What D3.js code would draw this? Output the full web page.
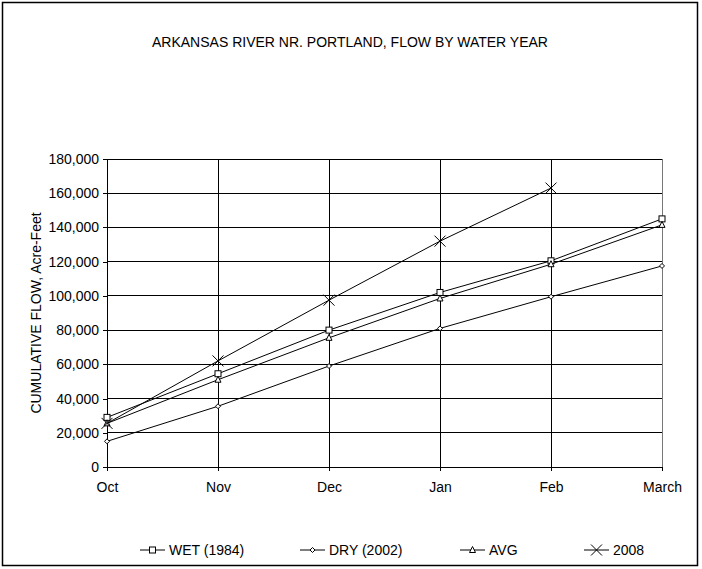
<!DOCTYPE html>
<html><head><meta charset="utf-8">
<script src="https://cdn.jsdelivr.net/npm/d3@7"></script>
<style>body{margin:0;background:#fff}svg{font-family:"Liberation Sans",Arial,sans-serif}</style>
</head><body><svg id="c" width="702" height="569"></svg>
<script>
const months = ["Oct", "Nov", "Dec", "Jan", "Feb", "March"];
const wet = [29000, 54500, 80000, 102000, 120500, 145000];
const dry = [15000, 35500, 59000, 81000, 99500, 117500];
const avg = [25500, 51000, 75500, 98500, 118500, 141500];
const y2008 = [25500, 62000, 97500, 132000, 163000];
const yTicks = [0, 20000, 40000, 60000, 80000, 100000, 120000, 140000, 160000, 180000];

const series = [
  {name: "WET (1984)", vals: wet, sym: "square"},
  {name: "DRY (2002)", vals: dry, sym: "diamond"},
  {name: "AVG", vals: avg, sym: "triangle"},
  {name: "2008", vals: y2008, sym: "x"}
];

const svg = d3.select("#c");
svg.append("rect").attr("x", 2.5).attr("y", 2.5).attr("width", 695).attr("height", 563)
  .attr("fill", "none").attr("stroke", "#000").attr("stroke-width", 1.5);

const x = d3.scalePoint().domain(months).range([107, 662]);
const y = d3.scaleLinear().domain([0, 180000]).range([467, 159]);
const fmt = d3.format(",");
const FS = 14;

svg.append("text").attr("x", 350).attr("y", 47).attr("text-anchor", "middle")
  .attr("font-size", FS).text("ARKANSAS RIVER NR. PORTLAND, FLOW BY WATER YEAR");

const g = svg.append("g");
g.selectAll(".hg").data(yTicks.slice(1)).join("line")
  .attr("x1", 107).attr("x2", 662).attr("y1", d => y(d)).attr("y2", d => y(d))
  .attr("stroke", "#000").attr("stroke-width", 1).attr("shape-rendering", "crispEdges");
g.selectAll(".vg").data(months.slice(1)).join("line")
  .attr("x1", d => x(d)).attr("x2", d => x(d)).attr("y1", 159).attr("y2", 467)
  .attr("stroke", d => d === "March" ? "#777" : "#000").attr("shape-rendering", "crispEdges");

const ya = d3.axisLeft(y).tickValues(yTicks).tickFormat(fmt).tickSize(4).tickPadding(4);
svg.append("g").attr("transform", "translate(107,0)").call(ya)
  .call(s => s.selectAll("text").attr("font-size", FS).attr("font-family", "Liberation Sans, Arial").attr("fill", "#000"))
  .call(s => s.selectAll("line,path").attr("shape-rendering", "crispEdges"));
const xa = d3.axisBottom(x).tickSize(4);
svg.append("g").attr("transform", "translate(0,467)").call(xa)
  .call(s => s.selectAll("text").attr("font-size", FS).attr("dy", "1.3em").attr("font-family", "Liberation Sans, Arial").attr("fill", "#000"))
  .call(s => s.select("path").attr("d", "M107,0H662"))
  .call(s => s.selectAll("line,path").attr("shape-rendering", "crispEdges"));

svg.append("text").attr("transform", "translate(41,313) rotate(-90)").attr("text-anchor", "middle")
  .attr("font-size", FS).text("CUMULATIVE FLOW, Acre-Feet");

function marker(sel, sym) {
  if (sym === "square") sel.append("rect").attr("x", -3).attr("y", -3).attr("width", 6).attr("height", 6).attr("fill", "#fff").attr("stroke", "#000");
  if (sym === "diamond") sel.append("path").attr("d", "M0,-2.5L2.5,0L0,2.5L-2.5,0Z").attr("fill", "#fff").attr("stroke", "#000");
  if (sym === "triangle") sel.append("path").attr("d", "M0,-3.5L3,2.5L-3,2.5Z").attr("fill", "#fff").attr("stroke", "#000");
  if (sym === "x") sel.append("path").attr("d", "M-5.5,-5.5L5.5,5.5M-5.5,5.5L5.5,-5.5").attr("stroke", "#000").attr("fill", "none");
}

const line = d3.line().x((d, i) => x(months[i])).y(d => y(d));
series.forEach(s => {
  svg.append("path").attr("d", line(s.vals)).attr("fill", "none").attr("stroke", "#000").attr("stroke-width", 1);
  s.vals.forEach((v, i) => {
    const m = svg.append("g").attr("transform", `translate(${x(months[i])},${y(v)})`);
    marker(m, s.sym);
  });
});

const legX = [140, 300, 460, 584];
series.forEach((s, i) => {
  const lg = svg.append("g").attr("transform", `translate(${legX[i]},550)`);
  lg.append("line").attr("x1", 0).attr("x2", 25).attr("stroke", "#000");
  const m = lg.append("g").attr("transform", "translate(12.5,0)");
  marker(m, s.sym);
  lg.append("text").attr("x", 29).attr("y", 5).attr("font-size", FS).text(s.name);
});
</script></body></html>
